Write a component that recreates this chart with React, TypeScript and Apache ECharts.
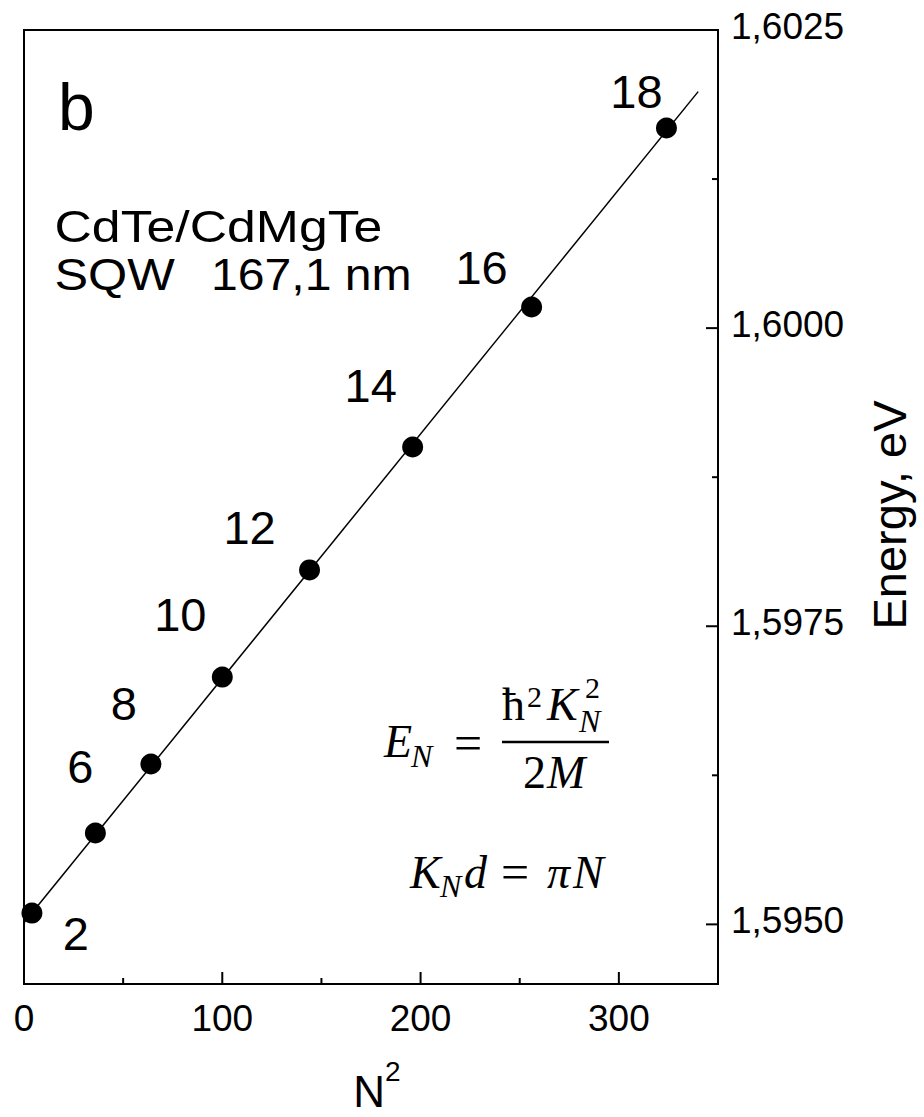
import React, { useEffect, useRef } from "react";
import * as echarts from "echarts";

// ---- data ----
const nValues = [2, 6, 8, 10, 12, 14, 16, 18];
const nSquared = [4, 36, 64, 100, 144, 196, 256, 324];
const energies = [1.595095, 1.595766, 1.596345, 1.597074, 1.597972, 1.599003, 1.600177, 1.601678];
const fitN2 = [0, 340];
const fitEnergy = [1.595013, 1.601983];
const xMin = 0;
const xMax = 350;
const yMin = 1.5945;
const yMax = 1.6025;
const xTicks = [0, 100, 200, 300];
const xMinorTicks = [50, 150, 250];
const yTicks = [1.595, 1.5975, 1.6, 1.6025];
const yMinorTicks = [1.59625, 1.59875, 1.60125];

// label placement (pixels, relative to each point)
const labelOffsets = [
  [44, 20], [-15, -67], [-27, -60], [-42, -63], [-60, -42], [-42, -62], [-50, -40], [-30, -37],
];

const SANS = "'Liberation Sans', Arial, sans-serif";
const SERIF = "'Liberation Serif', 'Times New Roman', serif";

function sansText(text: string, left: number, baseline: number, fs: number, sx = 1) {
  return {
    type: "text",
    x: left,
    y: baseline - 0.3465 * fs,
    scaleX: sx,
    style: { text, fontSize: fs, fontFamily: SANS, fill: "#000", align: "left", verticalAlign: "middle" },
  };
}
function serifText(text: string, left: number, baseline: number, fs: number, italic: boolean) {
  return {
    type: "text",
    x: left,
    y: baseline - 0.3375 * fs,
    style: {
      text,
      fontSize: fs,
      lineHeight: fs,
      fontFamily: SERIF,
      fontStyle: italic ? "italic" : "normal",
      fill: "#000",
      align: "left",
      verticalAlign: "middle",
    },
  };
}

// tick marks drawn through the axes' scale
function tickSeries(values: number[], dim: "x" | "y", len: number) {
  return {
    type: "custom",
    xAxisIndex: 0,
    yAxisIndex: 0,
    silent: true,
    z: 5,
    data: values.map((v) => (dim === "x" ? [v, yMin] : [xMax, v])),
    renderItem: (_params: any, api: any) => {
      const p = api.coord([api.value(0), api.value(1)]);
      const shape =
        dim === "x"
          ? { x1: p[0], y1: p[1], x2: p[0], y2: p[1] - len }
          : { x1: p[0], y1: p[1], x2: p[0] - len, y2: p[1] };
      return { type: "line", shape, style: { stroke: "#000", lineWidth: 2 } };
    },
  };
}

export default function App() {
  const ref = useRef<HTMLDivElement>(null);
  useEffect(() => {
    if (!ref.current) return;
    const chart = echarts.init(ref.current, undefined, { renderer: "svg" });
    const points = nSquared.map((x, i) => ({
      value: [x, energies[i]],
      label: { offset: labelOffsets[i] },
    }));
    const fit = fitN2.map((x, i) => [x, fitEnergy[i]]);
    const axisLineStyle = { color: "#000", width: 2 };
    const option: any = {
      animation: false,
      backgroundColor: "#fff",
      grid: {
        left: 24,
        right: 206,
        top: 30,
        bottom: 133,
        containLabel: false,
        outerBoundsMode: "none",
        show: true,
        borderColor: "#000",
        borderWidth: 2,
        backgroundColor: "transparent",
      },
      xAxis: {
        type: "value",
        min: xMin,
        max: xMax,
        position: "bottom",
        name: "{n|N}{s|2}",
        nameLocation: "middle",
        nameGap: 73,
        nameTextStyle: {
          rich: {
            n: { fontSize: 44, fontFamily: SANS, color: "#000", lineHeight: 68, padding: [0, 0, 0, 12] },
            s: { fontSize: 28, fontFamily: SANS, color: "#000", lineHeight: 28, verticalAlign: "top" },
          },
        },
        axisLine: { show: true, lineStyle: axisLineStyle },
        axisTick: { show: false },
        axisLabel: {
          show: true,
          customValues: xTicks,
          margin: 16,
          fontSize: 37,
          fontFamily: SANS,
          color: "#000",
        },
        splitLine: { show: false },
      },
      yAxis: {
        type: "value",
        min: yMin,
        max: yMax,
        position: "right",
        name: "Energy, eV",
        nameLocation: "middle",
        nameRotate: 90,
        nameGap: 148,
        nameTextStyle: { fontSize: 47, fontFamily: SANS, color: "#000", padding: [0, 16, 0, 0] },
        axisLine: { show: true, lineStyle: axisLineStyle },
        axisTick: { show: false },
        axisLabel: {
          show: true,
          customValues: yTicks,
          margin: 13,
          fontSize: 37,
          fontFamily: SANS,
          color: "#000",
          verticalAlign: "bottom",
          lineHeight: 8,
          formatter: (v: number) => v.toFixed(4).replace(".", ","),
        },
        splitLine: { show: false },
      },
      series: [
        {
          type: "line",
          data: fit,
          showSymbol: false,
          symbol: "none",
          lineStyle: { color: "#000", width: 1.5 },
          z: 2,
        },
        {
          type: "scatter",
          data: points,
          symbol: "circle",
          symbolSize: 21,
          itemStyle: { color: "#000", opacity: 1 },
          z: 3,
          label: {
            show: true,
            position: "inside",
            fontSize: 47,
            fontFamily: SANS,
            color: "#000",
            opacity: 1,
            formatter: (p: any) => String(nValues[p.dataIndex]),
          },
        },
        tickSeries(xTicks, "x", 12),
        tickSeries(xMinorTicks, "x", 6),
        tickSeries(yTicks, "y", 12),
        tickSeries(yMinorTicks, "y", 6),
      ],
      graphic: [
        sansText("b", 58, 130, 66),
        sansText("CdTe/CdMgTe", 54.5, 242, 45, 1.15),
        sansText("SQW", 54.5, 290, 45, 1.12),
        sansText("167,1 nm", 211, 290, 45, 1.07),
        // E_N = ħ²K_N² / 2M
        serifText("E", 384, 757, 46, true),
        serifText("N", 411, 767, 32, true),
        serifText("=", 454, 760, 50, false),
        { type: "line", shape: { x1: 502, y1: 742, x2: 609, y2: 742 }, style: { stroke: "#000", lineWidth: 2.5 } },
        serifText("ħ", 502, 720, 46, false),
        serifText("2", 527, 707, 30, false),
        serifText("K", 547, 720, 46, true),
        serifText("2", 585, 698, 30, false),
        serifText("N", 579, 732, 32, true),
        serifText("2", 523, 788, 46, false),
        serifText("M", 547, 788, 46, true),
        // K_N d = πN
        serifText("K", 410, 888, 46, true),
        serifText("N", 440, 897, 32, true),
        serifText("d", 464, 888, 46, true),
        serifText("=", 501, 888.5, 50, false),
        serifText("π", 547, 888, 46, true),
        serifText("N", 573, 888, 46, true),
      ],
    };
    chart.setOption(option);
    return () => chart.dispose();
  }, []);
  return <div ref={ref} style={{ position: "absolute", left: 0, top: 0, width: 924, height: 1117 }} />;
}
